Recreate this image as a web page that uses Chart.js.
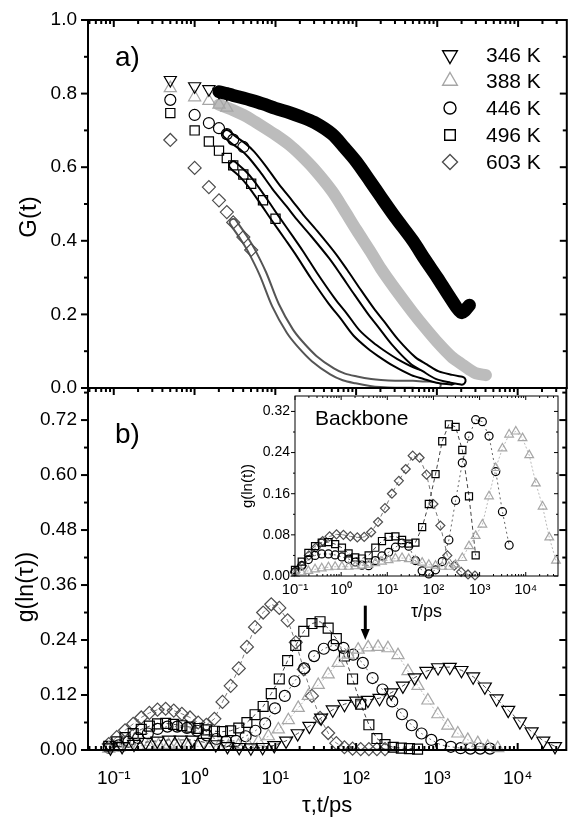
<!DOCTYPE html>
<html lang="en">
<head>
  <meta charset="UTF-8">
  <title>G(t) and g(ln(tau))</title>
  <script src="https://cdn.jsdelivr.net/npm/chart.js"></script>
  <style>
    html, body { margin: 0; padding: 0; background: #fff; }
    #wrap { position: relative; width: 575px; height: 823px; }
    #wrap canvas { position: absolute; left: 0; top: 0; }
  </style>
</head>
<body>
<div id="wrap">
  <canvas id="chartA" width="575" height="823"></canvas>
  <canvas id="chartB" width="575" height="823"></canvas>
  <canvas id="inset" width="575" height="823"></canvas>
</div>
<script>
const FONT = '"Liberation Sans", Arial, Helvetica, sans-serif';
Chart.defaults.font.family = FONT;
Chart.defaults.color = '#000';

const temps = ['346 K', '388 K', '446 K', '496 K', '603 K'];

// ---- panel a: G(t) ----
const tA = [0.5, 1, 1.5, 2, 2.5, 3, 4, 5, 7, 10, 15, 20, 30, 50, 70, 100, 150, 200, 300, 500, 700, 1000, 1500, 2000, 2500, 3000, 4000];
const G346 = [0.837, 0.82, 0.812, 0.805, 0.80, 0.795, 0.788, 0.782, 0.772, 0.76, 0.748, 0.738, 0.722, 0.69, 0.655, 0.615, 0.56, 0.52, 0.465, 0.40, 0.35, 0.30, 0.24, 0.205, 0.225, null, null];
const G388 = [0.815, 0.79, 0.78, 0.77, 0.762, 0.755, 0.742, 0.73, 0.71, 0.688, 0.66, 0.635, 0.595, 0.535, 0.485, 0.43, 0.37, 0.325, 0.27, 0.205, 0.165, 0.125, 0.085, 0.065, 0.05, 0.04, 0.035];
const G446 = [0.783, 0.742, 0.72, 0.706, 0.69, 0.675, 0.655, 0.635, 0.595, 0.548, 0.50, 0.465, 0.42, 0.36, 0.315, 0.265, 0.21, 0.175, 0.125, 0.075, 0.055, 0.035, 0.025, 0.02, null, null, null];
const G496 = [0.747, 0.70, 0.67, 0.645, 0.625, 0.605, 0.58, 0.555, 0.51, 0.46, 0.405, 0.365, 0.305, 0.235, 0.195, 0.15, 0.115, 0.095, 0.07, 0.045, 0.035, 0.025, 0.02, null, null, null, null];
const G603 = [0.674, 0.598, 0.546, 0.51, 0.478, 0.45, 0.41, 0.375, 0.31, 0.225, 0.155, 0.12, 0.08, 0.045, 0.03, 0.022, 0.015, 0.012, 0.01, 0.01, 0.008, 0.008, null, null, null, null, null];

// ---- panel b: g(ln(tau)) ----
const tau346 = [0.091, 0.127, 0.178, 0.248, 0.346, 0.483, 0.674, 0.941, 1.31, 1.83, 2.56, 3.57, 4.98, 6.96, 9.71, 13.6, 18.9, 26.4, 36.9, 51.4, 71.8, 100, 140, 195, 272, 380, 531, 741, 1034, 1443, 2014, 2811, 3923, 5476, 7643, 10670, 14890, 20780, 29010];
const g346 = [0.005, 0.008, 0.013, 0.017, 0.02, 0.022, 0.022, 0.022, 0.017, 0.012, 0.008, 0.006, 0.005, 0.006, 0.01, 0.02, 0.036, 0.052, 0.07, 0.088, 0.1, 0.107, 0.109, 0.113, 0.125, 0.14, 0.158, 0.172, 0.18, 0.181, 0.174, 0.16, 0.138, 0.112, 0.087, 0.062, 0.04, 0.02, 0.008];
const tau388 = [0.0868, 0.115, 0.153, 0.204, 0.271, 0.359, 0.478, 0.635, 0.843, 1.12, 1.49, 1.98, 2.63, 3.49, 4.64, 6.17, 8.20, 10.9, 14.5, 19.2, 25.6, 34.0, 45.1, 60.0, 79.7, 106, 141, 187, 248, 330, 439, 583, 774, 1029, 1367, 1817, 2414, 3208, 4262, 5664];
const g388 = [0.003, 0.005, 0.007, 0.009, 0.01, 0.011, 0.011, 0.01, 0.009, 0.008, 0.007, 0.007, 0.008, 0.01, 0.01, 0.018, 0.03, 0.045, 0.065, 0.092, 0.118, 0.142, 0.165, 0.19, 0.208, 0.219, 0.224, 0.225, 0.222, 0.207, 0.172, 0.14, 0.108, 0.078, 0.053, 0.036, 0.022, 0.015, 0.007, 0.004];
const tau446 = [0.0868, 0.115, 0.152, 0.200, 0.264, 0.349, 0.462, 0.610, 0.806, 1.07, 1.41, 1.86, 2.46, 3.25, 4.29, 5.67, 7.49, 9.89, 13.1, 17.3, 22.8, 30.2, 39.8, 52.6, 69.6, 91.9, 121, 160, 212, 280, 370, 489, 646, 854, 1128, 1490, 1969, 2602, 3438, 4542];
const g446 = [0.005, 0.01, 0.018, 0.026, 0.036, 0.046, 0.051, 0.051, 0.048, 0.042, 0.032, 0.024, 0.019, 0.02, 0.03, 0.042, 0.058, 0.091, 0.118, 0.15, 0.178, 0.205, 0.221, 0.229, 0.223, 0.208, 0.19, 0.157, 0.132, 0.106, 0.078, 0.054, 0.036, 0.022, 0.011, 0.007, 0.004, 0.003, 0.003, 0.003];
const tauSq = [0.0867, 0.109, 0.138, 0.174, 0.219, 0.276, 0.348, 0.439, 0.553, 0.697, 0.879, 1.11, 1.40, 1.76, 2.22, 2.80, 3.53, 4.45, 5.61, 7.07, 8.91, 11.2, 14.2, 17.9, 22.5, 28.4, 35.8, 45.1, 56.9, 71.7, 90.4, 114, 144, 181, 228, 288, 363, 457, 577];
const g496 = [0.008, 0.018, 0.027, 0.036, 0.045, 0.052, 0.057, 0.058, 0.056, 0.053, 0.05, 0.047, 0.044, 0.041, 0.04, 0.042, 0.048, 0.06, 0.077, 0.095, 0.123, 0.155, 0.195, 0.228, 0.259, 0.276, 0.28, 0.266, 0.243, 0.205, 0.155, 0.1, 0.055, 0.025, 0.012, 0.006, 0.004, 0.003, 0.002];
const g603 = [0.013, 0.028, 0.043, 0.057, 0.071, 0.081, 0.088, 0.09, 0.086, 0.079, 0.071, 0.06, 0.055, 0.068, 0.105, 0.14, 0.178, 0.225, 0.268, 0.30, 0.318, 0.31, 0.283, 0.235, 0.176, 0.118, 0.07, 0.037, 0.015, 0.006, 0.003, 0.002, 0.002, 0.002, 0.002];

// ---- inset: backbone ----
const tauInD = [0.1, 0.141, 0.2, 0.282, 0.398, 0.562, 0.794, 1.12, 1.58, 2.24, 3.16, 4.47, 6.31, 8.91, 12.6, 17.8, 25.1, 35.5, 50.1, 70.8, 100, 141, 200, 282, 398, 562, 794];
const gIn603 = [0.008, 0.02, 0.04, 0.055, 0.068, 0.077, 0.081, 0.08, 0.077, 0.075, 0.076, 0.085, 0.105, 0.132, 0.16, 0.185, 0.208, 0.234, 0.23, 0.197, 0.14, 0.098, 0.04, 0.02, 0.008, 0.003, 0.001];
const tauIn = [0.1, 0.14, 0.195, 0.272, 0.38, 0.531, 0.741, 1.04, 1.45, 2.02, 2.82, 3.94, 5.50, 7.67, 10.7, 15.0, 20.9, 29.2, 40.7, 56.9, 79.4, 111, 155, 216, 302, 422, 589, 822, 1148, 1603, 2239, 3126, 4365, 6095, 8511, 11885, 16596, 23174, 32359, 45186];
const gIn496 = [0.012, 0.028, 0.045, 0.058, 0.065, 0.066, 0.062, 0.055, 0.044, 0.036, 0.034, 0.04, 0.055, 0.068, 0.076, 0.077, 0.07, 0.063, 0.065, 0.095, 0.14, 0.198, 0.262, 0.295, 0.29, 0.245, 0.155, 0.04];
const gIn446 = [0.008, 0.02, 0.032, 0.04, 0.043, 0.043, 0.041, 0.037, 0.033, 0.027, 0.021, 0.02, 0.03, 0.039, 0.046, 0.056, 0.064, 0.058, 0.03, 0.01, 0.004, 0.012, 0.028, 0.07, 0.147, 0.22, 0.272, 0.304, 0.3, 0.272, 0.203, 0.125, 0.06];
const gIn388 = [0.004, 0.007, 0.01, 0.013, 0.015, 0.017, 0.018, 0.018, 0.018, 0.019, 0.02, 0.022, 0.025, 0.028, 0.031, 0.034, 0.035, 0.033, 0.03, 0.026, 0.022, 0.02, 0.018, 0.018, 0.022, 0.035, 0.058, 0.078, 0.1, 0.155, 0.21, 0.248, 0.275, 0.281, 0.268, 0.235, 0.18, 0.135, 0.075, 0.03];

// ---- axes ----
const xMin = 0.048, xMax = 40000;
const xDecades = [0.1, 1, 10, 100, 1000, 10000];
const yTicksA = [0, 0.2, 0.4, 0.6, 0.8, 1.0];
const yMinorA = [0.1, 0.3, 0.5, 0.7, 0.9];
const yTicksB = [0, 0.12, 0.24, 0.36, 0.48, 0.60, 0.72];
const yMinorB = [0.06, 0.18, 0.30, 0.42, 0.54, 0.66, 0.78];
const yTicksIn = [0, 0.08, 0.16, 0.24, 0.32];
const yMinorIn = [0.04, 0.12, 0.20, 0.28];
const mantissas = [2, 3, 4, 5, 6, 7, 8, 9];
const minorOf = (lo, hi) => [0.01].concat(xDecades).flatMap(d => mantissas.map(m => m * d)).filter(v => v > lo && v < hi);

// marker look per temperature
const styles = [
  { shape: 'triangle', rot: 180, color: '#000', line: '#444', dash: [4, 3], rA: 7, rB: 7.5, rIn: 5, rL: 8.5 },
  { shape: 'triangle', rot: 0, color: '#a6a6a6', line: '#bbb', dash: [2, 2], rA: 7, rB: 7, rIn: 5, rL: 8.5 },
  { shape: 'circle', rot: 0, color: '#000', line: '#666', dash: [2, 3], rA: 5.5, rB: 5.5, rIn: 4, rL: 6 },
  { shape: 'rect', rot: 0, color: '#000', line: '#444', dash: [4, 3], rA: 6.5, rB: 7, rIn: 5, rL: 7.5 },
  { shape: 'rectRot', rot: 0, color: '#4d4d4d', line: '#777', dash: [4, 3], rA: 6.5, rB: 6.5, rIn: 4.5, rL: 7.5 }
];
// panel a: thick bands where the markers pile up
const bands = [
  { w: 13, inner: 0, from: 3, marks: 5, color: '#000' },
  { w: 12, inner: 0, from: 3, marks: 5, color: '#bcbcbc' },
  { w: 10, inner: 6, from: 4, marks: 7, color: '#000' },
  { w: 10, inner: 6, from: 5, marks: 10, color: '#000' },
  { w: 9, inner: 5, from: 5, marks: 8, color: '#555' }
];

function pts(tau, g) {
  return g.map((v, i) => ({ x: tau[i], y: v })).filter(p => p.y !== null);
}
function sup(n) {
  const m = { '-': '⁻', '0': '⁰', '1': '¹', '2': '²', '3': '³', '4': '⁴' };
  return String(n).split('').map(c => m[c]).join('');
}
function bandLine(data, color, width, from) {
  return {
    data, borderColor: color, borderWidth: width, pointRadius: 0, tension: 0.3,
    borderJoinStyle: 'round', borderCapStyle: 'round',
    segment: { borderColor: c => c.p0DataIndex < from ? 'rgba(0,0,0,0)' : color }
  };
}
function markLine(data, s, r) {
  return {
    data, borderColor: s.line, borderWidth: 1, borderDash: s.dash, tension: 0, clip: false,
    pointStyle: s.shape, pointRotation: s.rot, pointRadius: r,
    pointBorderColor: s.color, pointBackgroundColor: 'rgba(0,0,0,0)', pointBorderWidth: 1.2
  };
}
function yAxis(min, max, ticks, width, digits, size, pad) {
  return {
    min, max,
    grid: { display: false, drawTicks: false }, border: { display: false },
    afterFit: s => { s.width = width; s.paddingTop = 0; s.paddingBottom = 0; },
    afterBuildTicks: s => { s.ticks = ticks.map(v => ({ value: v })); },
    ticks: { callback: v => v.toFixed(digits), font: { size }, padding: pad, color: '#000' }
  };
}
function xAxis(min, max, height, size, pad, title) {
  return {
    type: 'logarithmic', min, max,
    grid: { display: false, drawTicks: false }, border: { display: false },
    afterFit: s => { s.height = height; s.paddingLeft = 0; s.paddingRight = 0; },
    afterBuildTicks: s => { s.ticks = xDecades.map(v => ({ value: v })); },
    ticks: { autoSkip: false, maxRotation: 0, font: { size }, padding: pad, color: '#000',
      callback: v => '10' + sup(Math.round(Math.log10(v))) },
    title
  };
}

function marker(ctx, s, x, y, r) {
  ctx.beginPath();
  if (s.shape === 'circle') {
    ctx.arc(x, y, r, 0, Math.PI * 2);
  } else if (s.shape === 'rect') {
    const h = r * Math.SQRT1_2;
    ctx.rect(x - h, y - h, 2 * h, 2 * h);
  } else if (s.shape === 'rectRot') {
    ctx.moveTo(x, y - r); ctx.lineTo(x + r, y); ctx.lineTo(x, y + r); ctx.lineTo(x - r, y); ctx.closePath();
  } else {
    const k = s.rot ? -1 : 1, c = r * Math.cos(Math.PI / 6);
    ctx.moveTo(x, y - k * r); ctx.lineTo(x + c, y + k * r / 2); ctx.lineTo(x - c, y + k * r / 2); ctx.closePath();
  }
  ctx.stroke();
}

// box and tick marks, placed through the chart scales
const frame = {
  id: 'frame',
  afterDatasetsDraw(chart, args, o) {
    const { ctx, chartArea: a } = chart;
    const xs = chart.scales.x, ys = chart.scales.y;
    ctx.save();
    ctx.strokeStyle = '#000';
    ctx.lineWidth = o.lw;
    ctx.strokeRect(a.left, a.top, a.right - a.left, a.bottom - a.top);
    const seg = (x1, y1, x2, y2) => { ctx.beginPath(); ctx.moveTo(x1, y1); ctx.lineTo(x2, y2); ctx.stroke(); };
    const side = (name, vals, len) => {
      const d = o.sides[name];
      if (!d) return;
      vals.forEach(v => {
        if (name === 'left' || name === 'right') {
          const p = ys.getPixelForValue(v);
          if (p < a.top - 0.5 || p > a.bottom + 0.5) return;
          const x0 = name === 'left' ? a.left : a.right, sx = name === 'left' ? 1 : -1;
          seg(x0, p, x0 + sx * d * len, p);
        } else {
          const p = xs.getPixelForValue(v);
          if (p < a.left - 0.5 || p > a.right + 0.5) return;
          const y0 = name === 'top' ? a.top : a.bottom, sy = name === 'top' ? 1 : -1;
          seg(p, y0, p, y0 + sy * d * len);
        }
      });
    };
    ['left', 'right'].forEach(n => { side(n, o.yMajor, o.major); side(n, o.yMinor, o.minor); });
    ['top', 'bottom'].forEach(n => { side(n, o.xMajor, o.major); side(n, o.xMinor, o.minor); });
    ctx.restore();
  }
};

const decorA = {
  id: 'decorA',
  afterDraw(chart) {
    const ctx = chart.ctx;
    ctx.save();
    ctx.fillStyle = '#000';
    ctx.textBaseline = 'middle';
    ctx.textAlign = 'left';
    ctx.font = '28px ' + FONT;
    ctx.fillText('a)', 115, 58);
    const rows = [55, 81, 108, 135, 162];
    ctx.font = '21px ' + FONT;
    temps.forEach((t, i) => {
      ctx.strokeStyle = styles[i].color;
      ctx.lineWidth = 1.4;
      marker(ctx, styles[i], 450, rows[i], styles[i].rL);
      ctx.fillText(t, 486, rows[i] + 1);
    });
    ctx.translate(29, 217);
    ctx.rotate(-Math.PI / 2);
    ctx.textAlign = 'center';
    ctx.font = '24px ' + FONT;
    ctx.fillText('G(t)', 0, 0);
    ctx.restore();
  }
};

const arrowTau = 130, arrowTop = 0.315, arrowTip = 0.24;
const decorB = {
  id: 'decorB',
  afterDraw(chart) {
    const ctx = chart.ctx, xs = chart.scales.x, ys = chart.scales.y;
    ctx.save();
    ctx.fillStyle = '#000';
    ctx.strokeStyle = '#000';
    ctx.textBaseline = 'middle';
    ctx.font = '28px ' + FONT;
    ctx.fillText('b)', 115, 435);
    const xa = xs.getPixelForValue(arrowTau), y1 = ys.getPixelForValue(arrowTop), y2 = ys.getPixelForValue(arrowTip);
    ctx.lineWidth = 3;
    ctx.beginPath(); ctx.moveTo(xa, y1); ctx.lineTo(xa, y2 - 8); ctx.stroke();
    ctx.beginPath(); ctx.moveTo(xa - 4.5, y2 - 11); ctx.lineTo(xa + 4.5, y2 - 11); ctx.lineTo(xa, y2); ctx.closePath(); ctx.fill();
    ctx.translate(27, 587);
    ctx.rotate(-Math.PI / 2);
    ctx.textAlign = 'center';
    ctx.font = '23px ' + FONT;
    ctx.fillText('g(ln(τ))', 0, 0);
    ctx.restore();
  }
};

const decorIn = {
  id: 'decorIn',
  beforeDraw(chart) {
    const { ctx, chartArea: a } = chart;
    ctx.save();
    ctx.fillStyle = '#fff';
    ctx.fillRect(a.left, a.top, a.right - a.left, a.bottom - a.top);
    ctx.restore();
  },
  afterDraw(chart) {
    const ctx = chart.ctx;
    ctx.save();
    ctx.fillStyle = '#000';
    ctx.textBaseline = 'alphabetic';
    ctx.font = '21px ' + FONT;
    ctx.fillText('Backbone', 315, 425);
    ctx.restore();
  }
};

const common = { responsive: false, animation: false, devicePixelRatio: 1, events: [] };

// panel a
const gA = [G346, G388, G446, G496, G603];
const dsA = [];
gA.forEach((g, i) => {
  const s = styles[i], b = bands[i], data = pts(tA, g);
  dsA.push({
    data, showLine: false, pointStyle: s.shape, pointRotation: s.rot,
    pointBorderColor: s.color, pointBackgroundColor: 'rgba(0,0,0,0)', pointBorderWidth: 1.2,
    pointRadius: c => c.dataIndex < b.marks ? s.rA : 0
  });
  if (b.inner) dsA.push(bandLine(data, '#fff', b.inner, b.from));
  dsA.push(bandLine(data, b.color, b.w, b.from));
});

new Chart(document.getElementById('chartA'), {
  type: 'line',
  data: { datasets: dsA },
  options: Object.assign({}, common, {
    layout: { padding: { top: 20, right: 7, bottom: 435, left: 0 } },
    plugins: {
      legend: { display: false }, tooltip: { enabled: false },
      frame: { lw: 2, major: 7, minor: 4, sides: { left: -1, right: 1, top: 1, bottom: 0 },
        yMajor: yTicksA, yMinor: yMinorA, xMajor: xDecades, xMinor: minorOf(xMin, xMax) }
    },
    scales: {
      x: { type: 'logarithmic', min: xMin, max: xMax, display: false },
      y: yAxis(0, 1, yTicksA, 88, 1, 19, 11)
    }
  }),
  plugins: [frame, decorA]
});

// panel b
const dsB = [[tau346, g346], [tau388, g388], [tau446, g446], [tauSq, g496], [tauSq, g603]]
  .map(([tau, g], i) => markLine(pts(tau, g), styles[i], styles[i].rB));

new Chart(document.getElementById('chartB'), {
  type: 'line',
  data: { datasets: dsB },
  options: Object.assign({}, common, {
    layout: { padding: { top: 388, right: 7, bottom: 0, left: 0 } },
    plugins: {
      legend: { display: false }, tooltip: { enabled: false },
      frame: { lw: 2, major: 7, minor: 4, sides: { left: -1, right: 1, top: 1, bottom: 1 },
        yMajor: yTicksB, yMinor: yMinorB, xMajor: xDecades, xMinor: minorOf(xMin, xMax) }
    },
    scales: {
      x: xAxis(xMin, xMax, 73, 19, 17, { display: true, text: 'τ,t/ps', font: { size: 22 }, padding: { top: 0, bottom: 4 } }),
      y: yAxis(0, 0.79, yTicksB, 88, 2, 19, 11)
    }
  }),
  plugins: [frame, decorB]
});

// inset
const dsIn = [[tauIn, gIn388, 1], [tauIn, gIn446, 2], [tauIn, gIn496, 3], [tauInD, gIn603, 4]]
  .map(([tau, g, k]) => markLine(pts(tau, g), styles[k], styles[k].rIn));

new Chart(document.getElementById('inset'), {
  type: 'line',
  data: { datasets: dsIn },
  options: Object.assign({}, common, {
    layout: { padding: { top: 396, right: 17, bottom: 200, left: 235 } },
    plugins: {
      legend: { display: false }, tooltip: { enabled: false },
      frame: { lw: 1, major: 4, minor: 2, sides: { left: -1, right: 1, top: 1, bottom: 1 },
        yMajor: yTicksIn, yMinor: yMinorIn, xMajor: xDecades, xMinor: minorOf(0.1, 50000) }
    },
    scales: {
      x: xAxis(0.1, 50000, 47, 15, 5, { display: true, text: 'τ/ps', font: { size: 18 }, padding: { top: 0, bottom: 0 } }),
      y: Object.assign(yAxis(0, 0.35, yTicksIn, 60, 2, 14, 5), {
        title: { display: true, text: 'g(ln(t))', font: { size: 15 }, padding: { top: 4, bottom: 0 } }
      })
    }
  }),
  plugins: [frame, decorIn]
});
</script>
</body>
</html>
